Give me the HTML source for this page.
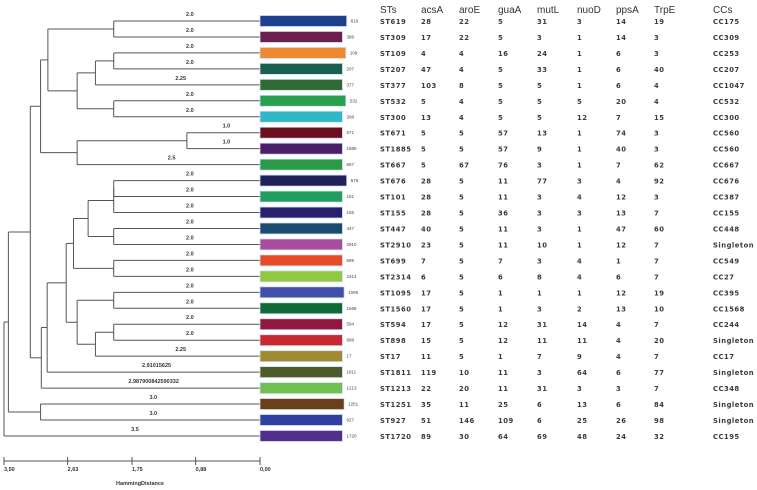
<!DOCTYPE html>
<html><head><meta charset="utf-8">
<style>
html,body{margin:0;padding:0;background:#fff;}
svg{display:block;font-family:"Liberation Sans",sans-serif;}
.lab{font-size:5.5px;font-weight:bold;fill:#333;}
.num{font-size:4.5px;fill:#444;}
.th{font-size:10px;fill:#333;}
.td{font-family:"DejaVu Sans",sans-serif;font-size:6.8px;font-weight:bold;fill:#3a3a3a;letter-spacing:0.5px;}
</style></head>
<body>
<svg id="chart" width="757" height="490" viewBox="0 0 757 490"></svg>
<script>
const leaves=["619","389","109","207","377","532","308","671","1885","667","676","181","155","447","2910","699","2314","1095","1568","594","898","17","1811","1213","1251","927","1720"];
const barColors=["#1f3f8f","#6b1f4f","#f08a30","#1a5e50","#2f6a35","#28a050","#30b8c8","#6a1020","#4a2068","#2a9a48","#1e2058","#20a060","#28206e","#1a4a6e","#a84ca0","#e84a28","#90c840","#4050a8","#106a38","#901840","#c82830","#a08a30","#4e5a28","#70c050","#6a4018","#3040a0","#50308a"];
const barLengths=[1.02,0.97,1.01,0.97,0.97,1.01,0.97,0.97,0.97,0.97,1.02,0.97,0.97,0.97,0.97,0.97,0.97,0.99,0.97,0.97,0.97,0.97,0.97,0.97,0.99,0.97,0.97];
const branchLabels=["2.0","2.0","2.0","2.0","2.25","2.0","2.0","1.0","1.0","2.5","2.0","2.0","2.0","2.0","2.0","2.0","2.0","2.0","2.0","2.0","2.0","2.25","2.91015625","2.987900842590332","3.0","3.0","3.5"];
const merges=[[0,1,2.0],[2,3,2.0],[28,4,2.25],[5,6,2.0],[29,30,2.5],[27,31,2.9],[7,8,1.0],[33,9,2.5],[32,34,3.0],[10,11,2.0],[36,12,2.0],[13,14,2.0],[37,38,2.35],[15,16,2.0],[39,40,2.55],[17,18,2.0],[19,20,2.0],[43,21,2.25],[42,44,2.5],[41,45,2.65],[46,22,2.91],[47,23,2.99],[35,48,3.14],[24,25,3.0],[49,50,3.44],[51,26,3.5]];
const axisTicks=[3.5,2.63,1.75,0.88,0.0];
const axisTickLabels=["3,50","2,63","1,75","0,88","0,00"];
const headers=["STs","acsA","aroE","guaA","mutL","nuoD","ppsA","TrpE","CCs"];
const stCol=["ST619","ST309","ST109","ST207","ST377","ST532","ST300","ST671","ST1885","ST667","ST676","ST101","ST155","ST447","ST2910","ST699","ST2314","ST1095","ST1560","ST594","ST898","ST17","ST1811","ST1213","ST1251","ST927","ST1720"];
const acsA=[28,17,4,47,103,5,13,5,5,5,28,28,28,40,23,7,6,17,17,17,15,11,119,22,35,51,89];
const aroE=[22,22,4,4,8,4,4,5,5,67,5,5,5,5,5,5,5,5,5,5,5,5,10,20,11,146,30];
const guaA=[5,5,16,5,5,5,5,57,57,76,11,11,36,11,11,7,6,1,1,12,12,1,11,11,25,109,64];
const mutL=[31,3,24,33,5,5,5,13,9,3,77,3,3,3,10,3,8,1,3,31,11,7,3,31,6,6,69];
const nuoD=[3,1,1,1,1,5,12,1,1,1,3,4,3,1,1,4,4,1,2,14,11,9,64,3,13,25,48];
const ppsA=[14,14,6,6,6,20,7,74,40,7,4,12,13,47,12,1,6,12,13,4,4,4,6,3,6,26,24];
const trpE=[19,3,3,40,4,4,15,3,3,62,92,3,7,60,7,7,7,19,10,7,20,7,77,7,84,98,32];
const ccs=["CC175","CC309","CC253","CC207","CC1047","CC532","CC300","CC560","CC560","CC667","CC676","CC387","CC155","CC448","Singleton","CC549","CC27","CC395","CC1568","CC244","Singleton","CC17","Singleton","CC348","Singleton","Singleton","CC195"];

const svg=document.getElementById('chart');
const NS='http://www.w3.org/2000/svg';
const xOf=d=>260-d*(256/3.5);
const yOf=i=>21+i*15.96;
function mk(tag,attrs,parent){const e=document.createElementNS(NS,tag);for(const k in attrs)e.setAttribute(k,attrs[k]);(parent||svg).appendChild(e);return e;}

const nodeY=leaves.map((_,i)=>yOf(i));
const nodeD=leaves.map(()=>0);
const parentD=[];
const g=mk('g',{});


merges.forEach((m,k)=>{
  const id=leaves.length+k;
  const [a,b,d]=m;
  parentD[a]=d;parentD[b]=d;
  nodeY[id]=(nodeY[a]+nodeY[b])/2;nodeD[id]=d;
  const v=mk('line',{x1:xOf(d),x2:xOf(d),y1:nodeY[a],y2:nodeY[b],stroke:'#555','stroke-width':1},g);
  
  
  [a,b].forEach(c=>{
    const h=mk('line',{x1:xOf(d),x2:xOf(nodeD[c]),y1:nodeY[c],y2:nodeY[c],stroke:'#555','stroke-width':1},g);
    
    
  });
});
leaves.forEach((lf,i)=>{
  const y=yOf(i);
  const bar=mk('rect',{x:260,y:y-5.5,width:85*barLengths[i],height:11,fill:barColors[i],stroke:'#cfe0f0','stroke-width':0.8});
  
  
  const t=mk('text',{x:260+85*barLengths[i]+4,y:y+1.5,class:'num'});t.textContent=lf;
  
  
  const bx=(xOf(parentD[i])+260)/2+3;
  const bl=mk('text',{x:bx,y:y-5,class:'lab','text-anchor':'middle'});bl.textContent=branchLabels[i];
  
  
});
const ax=mk('g',{});


mk('line',{x1:xOf(3.5),x2:xOf(0),y1:461,y2:461,stroke:'#555','stroke-width':1},ax);
axisTicks.forEach((t,i)=>{
  mk('line',{x1:xOf(t),x2:xOf(t),y1:457,y2:465,stroke:'#555','stroke-width':1},ax);
  const tl=mk('text',{x:xOf(t),y:471,class:'lab'},ax);tl.textContent=axisTickLabels[i];
  
  
});
const at=mk('text',{x:116,y:485,class:'lab'});at.textContent='HammingDistance';


const colX=[380,421,459,498,537,577,616,654,713];
const cols=[stCol,acsA,aroE,guaA,mutL,nuoD,ppsA,trpE,ccs];
headers.forEach((h,c)=>{
  const t=mk('text',{x:colX[c],y:13,class:'th'});t.textContent=h;
  
  
});
leaves.forEach((_,i)=>{
  cols.forEach((col,c)=>{
    const t=mk('text',{x:colX[c],y:yOf(i)+3,class:'td'});t.textContent=col[i];
    
    
  });
});
</script>
</body></html>
